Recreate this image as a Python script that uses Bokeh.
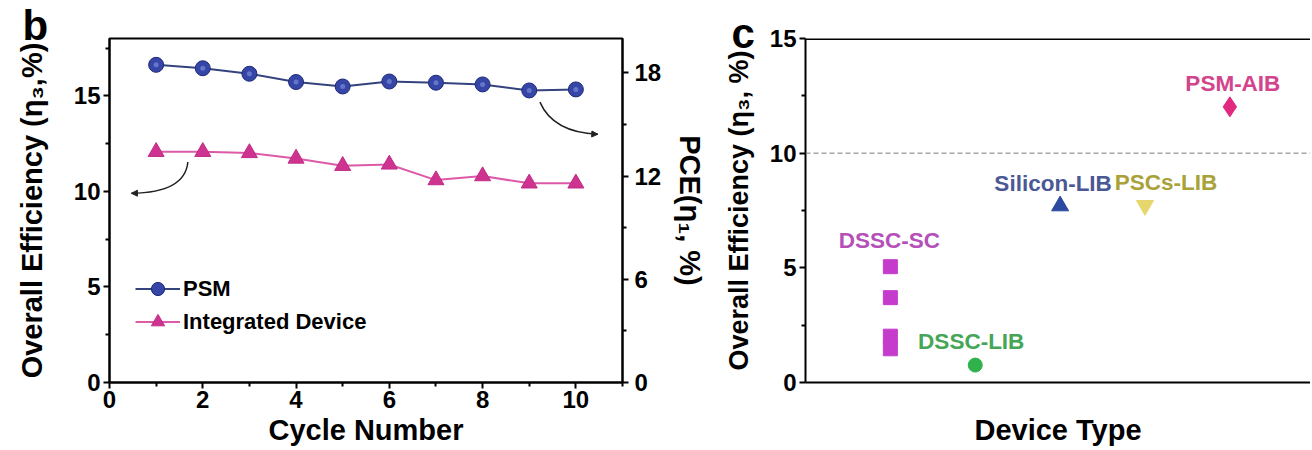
from bokeh.plotting import figure
from bokeh.models import (Range1d, LinearAxis, FixedTicker, Legend, LegendItem,
                          Span, Title, Arrow, NormalHead, ColumnDataSource)
from bokeh.layouts import row
from bokeh.embed import file_html
from bokeh.resources import INLINE
from bokeh.core.properties import value

FONT = "Liberation Sans"

# ---------------- data: panel b ----------------
cycles = [1, 2, 3, 4, 5, 6, 7, 8, 9, 10]
psm_pce = [18.47, 18.27, 17.95, 17.47, 17.21, 17.50, 17.43, 17.33, 16.98, 17.04]
device_eff = [12.07, 12.07, 12.01, 11.72, 11.34, 11.41, 10.59, 10.80, 10.42, 10.42]
x_ticks_b = [0, 2, 4, 6, 8, 10]
x_minor_b = [1, 3, 5, 7, 9, 11]
y_ticks_b = [0, 5, 10, 15]
y_minor_b = [2.5, 7.5, 12.5, 17.5]
pce_ticks = [0, 6, 12, 18]
pce_minor = [3, 9, 15]

# ---------------- data: panel c ----------------
device_types = ["DSSC-SC", "DSSC-LIB", "Silicon-LIB", "PSCs-LIB", "PSM-AIB"]
dssc_sc = [5.05, 3.70, 2.02, 1.47]
dssc_lib = [0.76]
silicon_lib = [7.70]
pscs_lib = [7.72]
psm_aib = [12.02]
y_ticks_c = [0, 5, 10, 15]
y_minor_c = [2.5, 7.5, 12.5]
threshold = 10

# annotation geometry (arrows pointing to the relevant axis)
arrow_left = dict(x0=1.68, y0=11.54, cx=1.62, cy=9.94, x1=0.47, y1=9.90)
arrow_right = dict(x0=9.23, y0=14.67, cx=9.51, cy=13.09, x1=10.47, y1=12.99)

TITLE_SIZE = "29px"
TICK_SIZE = "24px"


def style_axis(ax, ticks, minor):
    ax.ticker = FixedTicker(ticks=ticks, minor_ticks=minor)
    ax.axis_line_width = 2
    ax.axis_line_color = "black"
    ax.major_tick_line_width = 2
    ax.minor_tick_line_width = 2
    ax.major_tick_out = 6
    ax.major_tick_in = 0
    ax.minor_tick_out = 4
    ax.minor_tick_in = 0
    ax.major_label_text_font = FONT
    ax.major_label_text_font_style = "bold"
    ax.major_label_text_font_size = TICK_SIZE
    ax.major_label_text_color = "black"
    ax.axis_label_text_font = FONT
    ax.axis_label_text_font_style = "bold"
    ax.axis_label_text_font_size = TITLE_SIZE
    ax.axis_label_text_color = "black"


def panel_letter(text, offset, standoff):
    return Title(text=text, align="left", offset=offset, standoff=standoff,
                 vertical_align="bottom", text_font=FONT, text_font_style="bold",
                 text_font_size="42px", text_color="black")


# ================= panel b =================
pb = figure(width=720, height=448, x_range=Range1d(0, 11), y_range=Range1d(0, 18),
            output_backend="svg", toolbar_location=None,
            min_border_left=109, min_border_right=98, min_border_top=38, min_border_bottom=65)
pb.extra_y_ranges = {"pce": Range1d(0, 20)}
pb.xgrid.visible = False
pb.ygrid.visible = False
pb.outline_line_color = "black"
pb.outline_line_width = 2
pb.outline_line_alpha = 1

style_axis(pb.xaxis[0], x_ticks_b, x_minor_b)
pb.xaxis[0].axis_label = "Cycle Number"
pb.xaxis[0].major_label_standoff = 2
pb.xaxis[0].axis_label_standoff = 3
style_axis(pb.yaxis[0], y_ticks_b, y_minor_b)
pb.yaxis[0].axis_label = "Overall Efficiency (η₃,%)"
pb.yaxis[0].major_label_standoff = 3
pb.yaxis[0].axis_label_standoff = 23

rax = LinearAxis(y_range_name="pce", axis_label="PCE(η₁, %)")
style_axis(rax, pce_ticks, pce_minor)
rax.major_label_standoff = 6
rax.axis_label_standoff = 10
pb.add_layout(rax, "right")

r_psm_line = pb.line(cycles, psm_pce, y_range_name="pce", line_color="#34427e", line_width=2)
r_psm_mark = pb.scatter(cycles, psm_pce, y_range_name="pce", marker="circle", size=15,
                        fill_color="#3646a6", line_color="#1e2a78", line_width=1)
pb.scatter(cycles, psm_pce, y_range_name="pce", marker="circle", size=5,
           fill_color="#8c9ce6", fill_alpha=0.55, line_color=None)
r_dev_line = pb.line(cycles, device_eff, line_color="#dc5aa8", line_width=2)
r_dev_mark = pb.scatter(cycles, device_eff, marker="triangle", size=16,
                        fill_color="#cf3390", line_color="#c02a84", line_width=1)

for a in (arrow_left, arrow_right):
    pb.quadratic(x0=a["x0"], y0=a["y0"], x1=a["x1"], y1=a["y1"], cx=a["cx"], cy=a["cy"],
                 line_color="#222222", line_width=1.5)
    dx = a["x1"] - a["cx"]
    dy = a["y1"] - a["cy"]
    pb.add_layout(Arrow(end=NormalHead(size=6, fill_color="#222222", line_color="#222222"),
                        x_start=a["x1"] - 0.12 * dx, y_start=a["y1"] - 0.12 * dy,
                        x_end=a["x1"], y_end=a["y1"], line_color="#222222", line_width=1.5))

legend = Legend(items=[LegendItem(label="PSM", renderers=[r_psm_line, r_psm_mark]),
                       LegendItem(label="Integrated Device", renderers=[r_dev_line, r_dev_mark])],
                location=(26, 44), glyph_width=45, glyph_height=33, label_height=20,
                label_standoff=3, spacing=0, padding=0, margin=0,
                border_line_color=None, background_fill_alpha=0,
                label_text_font=FONT, label_text_font_style="bold",
                label_text_font_size="22px", label_text_color="black")
pb.add_layout(legend)

pb.add_layout(panel_letter("b", -87, -20), "above")

# ================= panel c =================
pc = figure(width=590, height=448, x_range=Range1d(0, 5.95), y_range=Range1d(0, 15),
            output_backend="svg", toolbar_location=None,
            min_border_left=82, min_border_right=0, min_border_top=38, min_border_bottom=65)
pc.xgrid.visible = False
pc.ygrid.visible = False
pc.outline_line_color = None

style_axis(pc.xaxis[0], [], [])
pc.xaxis[0].axis_label = "Device Type"
pc.xaxis[0].major_label_text_font_size = "0px"
pc.xaxis[0].major_tick_out = 0
pc.xaxis[0].minor_tick_out = 0
pc.xaxis[0].axis_label_standoff = 31
style_axis(pc.yaxis[0], y_ticks_c, y_minor_c)
pc.yaxis[0].axis_label = "Overall Efficiency (η₃, %)"
pc.yaxis[0].axis_label_text_font_size = "27px"
pc.yaxis[0].major_label_standoff = 3
pc.yaxis[0].axis_label_standoff = 13

pc.add_layout(Span(location=15, dimension="width", line_color="black", line_width=3))
pc.add_layout(Span(location=threshold, dimension="width", line_color="#7a7a7a",
                   line_dash="5 3", line_width=1))

xpos = {name: i + 1 for i, name in enumerate(device_types)}

pc.scatter([xpos["DSSC-SC"]] * len(dssc_sc), dssc_sc, marker="square", size=14,
           fill_color="#c53ccc", line_color="#c53ccc")
pc.scatter([xpos["DSSC-LIB"]] * len(dssc_lib), dssc_lib, marker="circle", size=14,
           fill_color="#2fb24a", line_color="#2fb24a")
pc.scatter([xpos["Silicon-LIB"]] * len(silicon_lib), silicon_lib, marker="triangle", size=17,
           fill_color="#2b49a0", line_color="#2b49a0")
pc.scatter([xpos["PSCs-LIB"]] * len(pscs_lib), pscs_lib, marker="inverted_triangle", size=17,
           fill_color="#e6d66c", line_color="#e6d66c")
pc.scatter([xpos["PSM-AIB"]] * len(psm_aib), psm_aib, marker="diamond", size=20,
           fill_color="#e0297f", line_color="#e0297f")

label_src = ColumnDataSource(dict(
    x=[xpos[n] for n in device_types],
    y=[max(dssc_sc), max(dssc_lib), max(silicon_lib), max(pscs_lib), max(psm_aib)],
    text=device_types,
    color=["#b450b8", "#45a657", "#4a5894", "#a9a23a", "#d2448c"],
    dx=[-1, -4, -7, 21, 3],
    dy=[-26, -24, -22, -23, -23],
))
pc.text(x="x", y="y", text="text", source=label_src, x_offset="dx", y_offset="dy",
        text_color="color", text_font=value(FONT), text_font_style="bold",
        text_font_size="22.5px", text_align="center", text_baseline="middle")

pc.add_layout(panel_letter("c", -74, -36), "above")

layout = row(pb, pc)
open("out.html", "w").write(file_html(layout, INLINE))
